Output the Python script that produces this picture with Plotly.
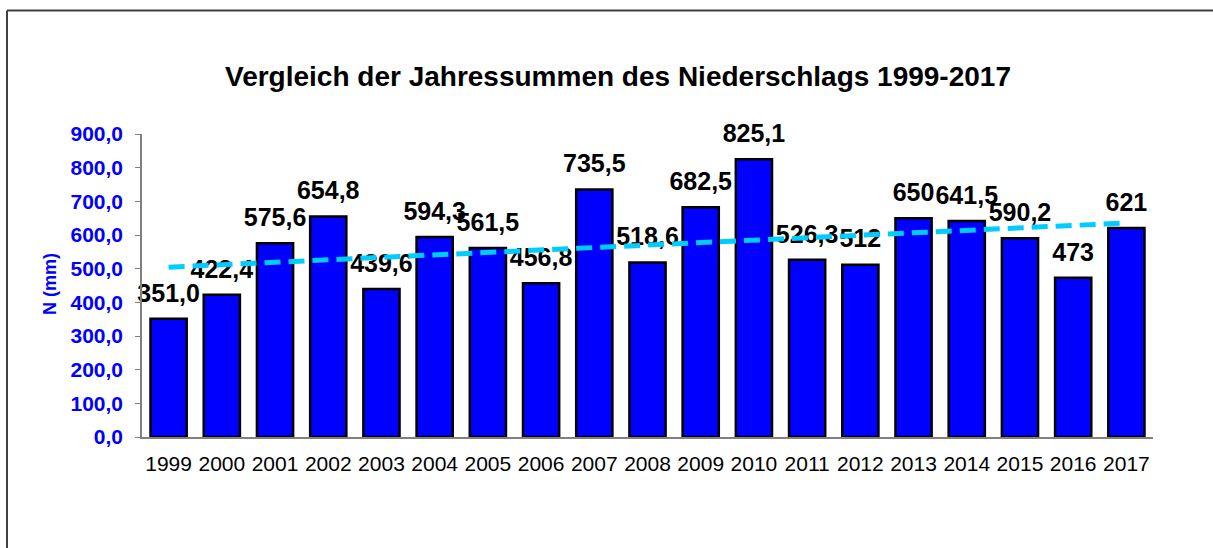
import numpy as np
import plotly.graph_objects as go

years = ["1999", "2000", "2001", "2002", "2003", "2004", "2005", "2006", "2007", "2008",
         "2009", "2010", "2011", "2012", "2013", "2014", "2015", "2016", "2017"]
values = [351.0, 422.4, 575.6, 654.8, 439.6, 594.3, 561.5, 456.8, 735.5, 518.6,
          682.5, 825.1, 526.3, 512, 650, 641.5, 590.2, 473, 621]
labels = ["351,0", "422,4", "575,6", "654,8", "439,6", "594,3", "561,5", "456,8", "735,5", "518,6",
          "682,5", "825,1", "526,3", "512", "650", "641,5", "590,2", "473", "621"]

title_text = "Vergleich der Jahressummen des Niederschlags 1999-2017"
y_title = "N (mm)"

FONT = "Liberation Sans, Arial, sans-serif"

# linear trend (as in the spreadsheet trendline)
idx = np.arange(len(values))
slope, intercept = np.polyfit(idx, values, 1)
trend = (slope * idx + intercept).tolist()

fig = go.Figure()
fig.add_trace(go.Bar(
    x=years, y=values,
    marker=dict(color="#0000FF", line=dict(color="black", width=2.5)),
    showlegend=False, hoverinfo="x+y",
))
fig.add_trace(go.Scatter(
    x=years, y=values, mode="markers+text", text=labels,
    textposition="top center", cliponaxis=False,
    marker=dict(size=16, color="rgba(0,0,0,0)"),
    textfont=dict(family=FONT, size=25, color="black", weight="bold"),
    showlegend=False, hoverinfo="skip",
))
fig.add_trace(go.Scatter(
    x=years, y=trend, mode="lines",
    line=dict(color="#00CCFF", width=5, dash="16px,8px"),
    showlegend=False, hoverinfo="skip",
))

L, R, T, B = 142, 1153, 134, 437
W, H = 1213, 548
def px(xp):
    return (xp - L) / (R - L)
def py(yp):
    return (B - yp) / (B - T)

border = dict(color="#404040", width=2)
fig.update_layout(
    width=W, height=H,
    margin=dict(l=L, r=W - R, t=T, b=H - B),
    paper_bgcolor="white", plot_bgcolor="white",
    separators=",.",
    bargap=0.32,
    font=dict(family=FONT),
    title=dict(text=title_text, x=618 / W, xref="container", xanchor="center",
               y=1 - 76 / H, yref="container", yanchor="middle",
               font=dict(family=FONT, size=28, color="black", weight="bold")),
    xaxis=dict(type="category", range=[-0.5, len(years) - 0.5], showline=True,
               linecolor="#808080", linewidth=1.5,
               ticks="", showgrid=False, ticklabelstandoff=7,
               tickfont=dict(family=FONT, size=21, color="black")),
    yaxis=dict(range=[0, 900], dtick=100, tickformat=".1f", showline=True,
               linecolor="#808080", linewidth=1.5, ticks="outside", ticklen=5,
               tickcolor="#808080", showgrid=False, zeroline=False,
               ticklabelstandoff=8,
               tickfont=dict(family=FONT, size=21, color="#0000FF", weight="bold")),
    annotations=[dict(text=y_title, xref="paper", yref="paper", x=px(50), y=py(284),
                      xanchor="center", yanchor="middle", textangle=-90, showarrow=False,
                      font=dict(family=FONT, size=18, color="#0000FF", weight="bold"))],
    shapes=[
        dict(type="line", xref="paper", yref="paper",
             x0=px(7), x1=px(1300), y0=py(10.5), y1=py(10.5), line=border, layer="below"),
        dict(type="line", xref="paper", yref="paper",
             x0=px(7), x1=px(7), y0=py(10.5), y1=py(600), line=border, layer="below"),
    ],
)

fig.write_html("out.html", config={"displayModeBar": False},
               post_script="document.body.style.margin='0';document.body.style.overflow='hidden';")
